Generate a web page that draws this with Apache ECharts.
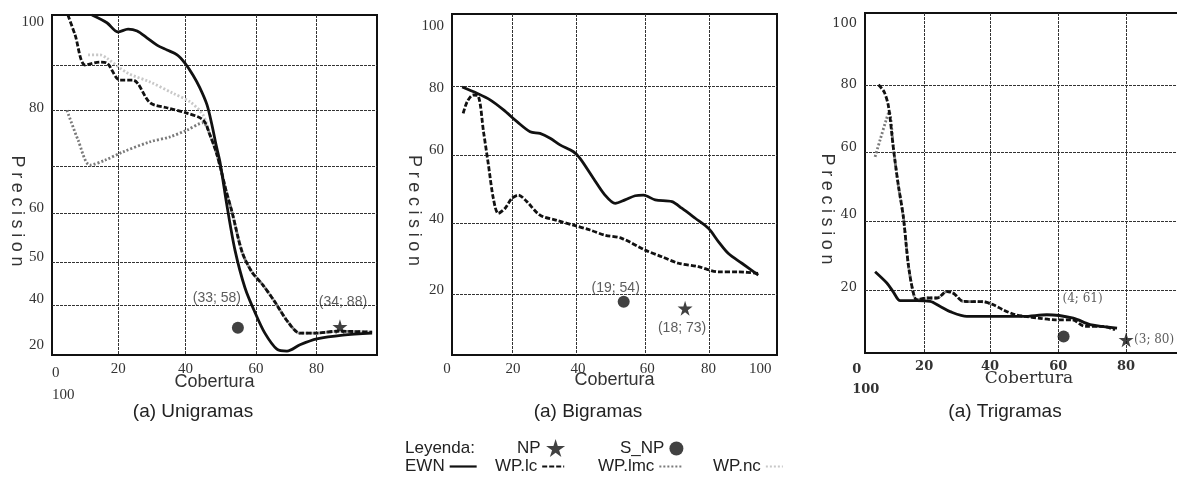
<!DOCTYPE html>
<html><head><meta charset="utf-8">
<script src="https://cdn.jsdelivr.net/npm/echarts@6/dist/echarts.min.js"></script>
<style>html,body{margin:0;padding:0;background:#fff}#c{width:1177px;height:485px}</style>
</head><body><div id="c"></div>
<script>
// ---------------- data ----------------
const panelTitles = ['(a) Unigramas', '(a) Bigramas', '(a) Trigramas'];
const xName = 'Cobertura';
const yName = 'Precision';

// Panel 1 (Unigramas)
const uniEWN = [[12.3,100],[16.9,98.4],[20.3,96.5],[23.4,97.1],[26.2,96.7],[29.2,95.3],[32.3,93.8],[35.4,92.8],[38.5,91.8],[40.9,90.1],[43.4,87.6],[45.5,85.0],[47.7,81.5],[49.2,77.4],[50.5,73.2],[51.7,69.7],[53.8,60.9],[56.3,51.6],[59.4,43.8],[62.5,38.7],[65.5,34.5],[69.2,31.2],[72.3,30.8],[76.3,32.1],[81.5,33.3],[89.5,34.1],[98.5,34.5]];
const uniLC = [[4.9,100],[7.1,95.9],[10.2,89.7],[14.8,90.3],[16.9,90.1],[20.9,86.6],[24.9,86.6],[30.2,81.9],[35.4,80.9],[41.5,79.8],[46.5,78.4],[48.6,75.3],[50.5,71.8],[52.0,68.1],[53.5,64.0],[55.4,59.4],[58.5,51.2],[61.5,47.1],[64.9,44.4],[68.6,40.9],[72.6,36.8],[76.3,34.5],[80.9,34.5],[88.0,34.9],[98.5,34.7]];
const uniLMC = [[4.6,80.4],[8.0,74.3],[11.7,69.1],[16.3,70.1],[21.8,71.8],[30.2,73.9],[36.3,74.9],[41.5,76.3],[46.5,77.8],[48.6,75.3],[50.5,71.8],[52.0,68.1],[53.5,64.0],[55.4,59.4],[58.5,51.2],[61.5,47.1],[64.9,44.4],[68.6,40.9],[72.6,36.8],[76.3,34.5],[80.9,34.5],[88.0,34.9],[98.5,34.7]];
const uniNC = [[11.1,91.8],[14.8,91.8],[16.9,91.1],[23.1,88.1],[30.2,86.2],[37.2,83.9],[42.5,82.1],[46.5,79.4],[48.6,75.3],[50.5,71.8],[52.0,68.1],[53.5,64.0],[55.4,59.4],[58.5,51.2],[61.5,47.1],[64.9,44.4],[68.6,40.9],[72.6,36.8],[76.3,34.5],[80.9,34.5],[88.0,34.9],[98.5,34.7]];
const uniNP = [[88.6,35.8]];
const uniSNP = [[57.2,35.6]];
const uniNPLabel = '(34; 88)';
const uniSNPLabel = '(33; 58)';

// Panel 2 (Bigramas)
const biEWN = [[4.7,79.9],[9.2,78.1],[13.2,76.2],[17.3,73.3],[21.4,69.9],[25.4,67.0],[28.4,66.5],[31.5,65.1],[34.5,63.2],[38.6,61.2],[40.6,59.3],[44.7,53.5],[48.2,48.7],[51.3,46.3],[54.3,47.3],[57.4,48.5],[59.9,48.7],[63.5,47.3],[68.6,46.8],[71.6,44.9],[75.7,42.0],[79.7,39.1],[82.8,35.2],[85.8,31.8],[89.9,29.0],[94.9,25.6]];
const biLC = [[5.0,72.3],[6.2,75.6],[8.0,77.6],[9.6,77.3],[11.2,67.0],[12.7,57.4],[14.2,47.7],[15.7,43.4],[17.8,44.9],[19.8,47.7],[21.8,48.7],[24.4,46.8],[28.4,42.9],[33.5,41.4],[38.6,40.0],[43.7,38.6],[48.2,37.1],[53.3,36.2],[60.4,32.8],[65.5,30.9],[70.6,29.0],[76.7,28.0],[82.8,26.5],[88.9,26.5],[94.9,26.1]];
const biNP = [[72.6,16.0]];
const biSNP = [[53.9,17.9]];
const biNPLabel = '(18; 73)';
const biSNPLabel = '(19; 54)';

// Panel 3 (Trigramas)
const triEWN = [[5.4,25.5],[8.9,22.2],[10.8,19.6],[12.9,17.0],[17.8,17.0],[21.8,16.8],[24.8,15.3],[27.7,13.8],[32.7,12.4],[39.6,12.4],[49.6,12.4],[56.5,12.9],[64.4,11.9],[69.4,10.0],[77.4,9.0]];
const triLC = [[6.4,80.2],[8.1,78.1],[9.4,73.8],[10.9,61.2],[12.3,50.9],[13.8,41.6],[15.3,27.5],[16.8,19.2],[17.8,17.3],[20.8,17.8],[23.8,17.8],[26.8,19.7],[28.7,19.2],[31.7,16.8],[37.6,16.7],[40.6,15.8],[43.6,14.3],[47.1,12.9],[50.1,12.4],[54.0,11.9],[59.0,11.4],[64.0,11.4],[67.9,9.5],[72.9,9.5],[76.8,8.5]];
const triLMC = [[5.4,59.1],[6.9,64.1],[8.7,69.9],[9.6,72.3],[10.9,61.2],[12.3,50.9],[13.8,41.6],[15.3,27.5],[16.8,19.2],[17.8,17.3],[20.8,17.8],[23.8,17.8],[26.8,19.7],[28.7,19.2],[31.7,16.8],[37.6,16.7],[40.6,15.8]];
const triNP = [[80.1,5.6]];
const triSNP = [[61.5,6.5]];
const triNPLabel = '(3; 80)';
const triSNPLabel = '(4; 61)';

// axis ranges, grid lines and tick labels (in each panel's own axis units)
const xRange = [[0,100],[1.6,100.6],[2.4,100]];
const yRange = [[30,100],[2.5,101],[1.7,101.2]];
const xGrid = [[20.4,41.1,62.8,81.4],[20,39.4,60.6,80],[20,39.6,59.8,80]];
const yGrid = [[40.2,49,59.2,68.8,80.3,89.6],[20,40.5,60.2,80],[20,40.2,60.4,80]];
const xTickPos = [[3.85,20.4,41.1,62.8,81.4],[1.6,20.2,40,61.1,79.7,95.5],[2.75,20,39.6,59.9,80.1]];
const xTickText = [['0\n100','20','40','60','80'],['0','20','40','60','80','100'],['0\n100','20','40','60','80']];
const yTickPos = [[32.1,41.5,50.2,60.2,80.8,98.6],[21.2,41.9,61.7,79.6,97.4],[20.7,42.1,61.7,80.2,98.2]];
const yTickText = [['20','40','50','60','80','100'],['20','40','60','80','100'],['20','40','60','80','100']];

const legendLines = ['EWN','WP.lc','WP.lmc','WP.nc'];
const legendMarks = ['NP','S_NP'];
const legendTitle = 'Leyenda:';

// ---------------- styling ----------------
const STAR = 'path://M50,0 L61,35 L98,35 L68,57 L79,91 L50,70 L21,91 L32,57 L2,35 L39,35 Z';
const SANS = 'Liberation Sans, Arial, sans-serif';
const SERIF = 'Liberation Serif, Times New Roman, serif';
const DSERIF = 'DejaVu Serif, serif';
const grids = [
  {left:52, top:15, width:325, height:340},
  {left:452, top:14, width:325, height:341},
  {left:865, top:13, width:328, height:340}
];
const lineStyles = {
  'EWN':   {color:'#111', width:2.8, type:'solid'},
  'WP.lc': {color:'#111', width:2.8, type:[5,2]},
  'WP.lmc':{color:'#7a7a7a', width:2.8, type:[2,2]},
  'WP.nc': {color:'#c8c8c8', width:2.8, type:[2,2]}
};
const tickFont = [
  {x:{fontFamily:SERIF,fontSize:15,fontWeight:'normal'}, y:{fontFamily:SERIF,fontSize:15}},
  {x:{fontFamily:SERIF,fontSize:15,fontWeight:'normal'}, y:{fontFamily:SERIF,fontSize:15}},
  {x:{fontFamily:DSERIF,fontSize:13,fontWeight:'bold'}, y:{fontFamily:DSERIF,fontSize:13}}
];
const nameFont = [
  {fontFamily:SANS,fontSize:18},
  {fontFamily:SANS,fontSize:18},
  {fontFamily:DSERIF,fontSize:17}
];
const xNameGap = [18, 16, 17];
const yNameGap = [26, 29, 29];

function lookup(pos, texts, v){
  let bi = 0, bd = Infinity;
  pos.forEach((p,i)=>{ const d = Math.abs(p - v); if (d < bd){ bd = d; bi = i; } });
  return texts[bi];
}

const xAxes = [], yAxes = [];
for (let i = 0; i < 3; i++) {
  const tf = tickFont[i];
  xAxes.push({
    type:'value', gridIndex:i, min:xRange[i][0], max:xRange[i][1],
    name:xName, nameLocation:'middle', nameGap:xNameGap[i], nameMoveOverlap:false,
    nameTextStyle:Object.assign({color:'#333'}, nameFont[i]),
    axisLine:{show:false},
    axisTick:{show:false, customValues:xGrid[i]},
    splitLine:{show:true, lineStyle:{color:'#333', width:1, type:[3,1]}},
    axisLabel:{
      customValues:xTickPos[i], margin:7, color:'#333', hideOverlap:false,
      fontFamily:tf.x.fontFamily, fontSize:tf.x.fontSize, fontWeight:tf.x.fontWeight,
      formatter:(v)=>{
        const t = lookup(xTickPos[i], xTickText[i], v);
        if (t.indexOf('\n') >= 0) { const p = t.split('\n'); return '{z|'+p[0]+'}\n{z|'+p[1]+'}'; }
        if (i === 1 && t === '0') return '{p|0}';
        return t;
      },
      rich:{
        z:{width: i===0 ? 25 : 28, align:'left', fontFamily:tf.x.fontFamily, fontSize:tf.x.fontSize, fontWeight:tf.x.fontWeight, lineHeight: i===0 ? 22 : 20, color:'#333'},
        p:{padding:[0,10,0,0], fontFamily:tf.x.fontFamily, fontSize:tf.x.fontSize, color:'#333'}
      }
    }
  });
  yAxes.push({
    type:'value', gridIndex:i, min:yRange[i][0], max:yRange[i][1],
    name:yName.split('').map(c=>'{s|'+c+'}').join(''), nameLocation:'middle', nameRotate:-90, nameGap:yNameGap[i], nameMoveOverlap:false,
    nameTextStyle:{padding:[0,0,0,52], rich:{s:{fontFamily:SANS, fontSize:18, color:'#333', padding:[0,2.3]}}},
    axisLine:{show:false},
    axisTick:{show:false, customValues:yGrid[i]},
    splitLine:{show:true, lineStyle:{color:'#333', width:1, type:[3,1]}},
    axisLabel:{
      customValues:yTickPos[i], margin:8, color:'#333', hideOverlap:false,
      fontFamily:tf.y.fontFamily, fontSize:tf.y.fontSize,
      formatter:(v)=>lookup(yTickPos[i], yTickText[i], v)
    }
  });
}

function lineSeries(name, data, gi){
  return {name, type:'line', xAxisIndex:gi, yAxisIndex:gi, data, symbol:'none', smooth:0.3,
    lineStyle:lineStyles[name], itemStyle:{color:lineStyles[name].color}, z: name==='EWN'?5:(name==='WP.lc'?4:3), silent:true};
}
function markSeries(name, data, gi, text, offset, font){
  const isStar = name === 'NP';
  return {name, type:'scatter', xAxisIndex:gi, yAxisIndex:gi, data,
    symbol: isStar ? STAR : 'circle', symbolSize: isStar ? 15 : 12,
    itemStyle:{color:'#111'}, z:6, silent:true,
    label:{show:true, formatter:text, position:'inside', offset, color:'#333',
      fontFamily:font.f, fontSize:font.s, align:'center', verticalAlign:'middle'}};
}
const sansLab = {f:SANS, s:14};
const serifLab = {f:DSERIF, s:12};

const series = [
  lineSeries('WP.nc', uniNC, 0), lineSeries('WP.lmc', uniLMC, 0), lineSeries('WP.lc', uniLC, 0), lineSeries('EWN', uniEWN, 0),
  markSeries('S_NP', uniSNP, 0, uniSNPLabel, [-21,-30], sansLab), markSeries('NP', uniNP, 0, uniNPLabel, [3,-25], sansLab),
  lineSeries('WP.lc', biLC, 1), lineSeries('EWN', biEWN, 1),
  markSeries('S_NP', biSNP, 1, biSNPLabel, [-8,-14], sansLab), markSeries('NP', biNP, 1, biNPLabel, [-3,20], sansLab),
  lineSeries('WP.lmc', triLMC, 2), lineSeries('WP.lc', triLC, 2), lineSeries('EWN', triEWN, 2),
  markSeries('S_NP', triSNP, 2, triSNPLabel, [19,-38], serifLab), markSeries('NP', triNP, 2, triNPLabel, [28,0], serifLab)
];

const legTxt = {fontFamily:SANS, fontSize:17, color:'#222'};
const legendPos = {
  'NP':{left:517, top:439, w:20, h:18},
  'S_NP':{left:620, top:440, w:14, h:14},
  'EWN':{left:405, top:458, w:27, h:12},
  'WP.lc':{left:495, top:458, w:22, h:12},
  'WP.lmc':{left:598, top:458, w:23, h:12},
  'WP.nc':{left:713, top:458, w:17, h:12}
};
const legends = legendMarks.concat(legendLines).map(n => {
  const isLine = legendLines.indexOf(n) >= 0;
  const o = {
    data:[n], left:legendPos[n].left, top:legendPos[n].top, align:'right', orient:'horizontal',
    itemWidth:legendPos[n].w, itemHeight:legendPos[n].h, padding:0, selectedMode:false,
    textStyle:legTxt
  };
  if (isLine) { o.itemStyle = {opacity:0}; o.lineStyle = {width:2.2}; }
  return o;
});

const titleCenters = [193, 588, 1005];
const graphics = panelTitles.map((t,i)=>({type:'text', x:titleCenters[i], y:412,
  style:{text:t, align:'center', verticalAlign:'middle', font:'19px '+SANS, fill:'#222'}}));
graphics.push({type:'text', x:405, y:448, style:{text:legendTitle, align:'left', verticalAlign:'middle', font:'17px '+SANS, fill:'#222'}});

const chart = echarts.init(document.getElementById('c'), null, {renderer:'canvas'});
chart.setOption({
  animation:false,
  backgroundColor:'#fff',
  grid:grids.map(g=>Object.assign({show:true, borderColor:'#111', borderWidth:2, backgroundColor:'transparent', containLabel:false, outerBoundsMode:'none'}, g)),
  xAxis:xAxes, yAxis:yAxes,
  legend:legends,
  graphic:graphics,
  series
});
</script></body></html>
